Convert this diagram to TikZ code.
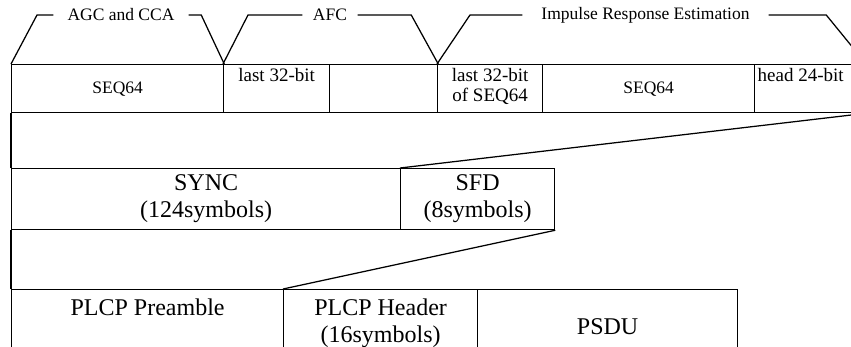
\documentclass[tikz,border=0pt]{standalone}
\usepackage{fontspec}
\setmainfont{Liberation Serif}
\begin{document}
\begin{tikzpicture}[x=1pt, y=-1pt, line width=1.25pt,
  cell/.style={draw, rectangle, inner sep=0pt, anchor=north west},
  small/.style={font=\fontsize{17.5}{19.5}\selectfont, inner sep=0pt, align=center},
  note/.style={font=\fontsize{19}{20}\selectfont, inner sep=0pt, align=center},
  big/.style={font=\fontsize{24}{27}\selectfont, inner sep=0pt, align=center},
  phase/.style={small, fill=white, inner ysep=0pt}]
\useasboundingbox (0,0) rectangle (851,346);
\clip (0,0) rectangle (851,346);

% --- bit-level row ---
\node[cell, minimum width=212pt, minimum height=48pt] (a1) at (11,64) {};
\node[cell, minimum width=106pt, minimum height=48pt] (a2) at (223,64) {};
\node[cell, minimum width=108pt, minimum height=48pt] (a3) at (329,64) {};
\node[cell, minimum width=105pt, minimum height=48pt] (a4) at (437,64) {};
\node[cell, minimum width=212pt, minimum height=48pt] (a5) at (542,64) {};
\node[cell, minimum width=111pt, minimum height=48pt] (a6) at (754,64) {};

\node[small] (t1) at (a1.center) {SEQ64};
\node[note, anchor=north] (t2) at ([yshift=-4pt]a2.north) {last 32-bit};
\node[note, anchor=north] (t4) at ([yshift=-4pt]a4.north) {last 32-bit\\of SEQ64};
\node[small] (t5) at (a5.center) {SEQ64};
\node[note, anchor=north west] (t6) at ([xshift=3pt, yshift=-4pt]a6.north west) {head 24-bit};

% --- phase brackets above the bit-level row ---
\node[phase, inner xsep=13.5pt] (p1) at (121,15) {AGC and CCA};
\node[phase, inner xsep=10pt] (p2) at (330,15) {AFC};
\node[phase, inner xsep=18.5pt] (p3) at (645.5,15) {Impulse Response Estimation};

\draw (a1.north west) -- ([xshift=26pt]a1.north west |- p1.west) -- (p1.west);
\draw (p1.east) -- ([xshift=-23pt]a1.north east |- p1.east) -- (a1.north east);
\draw (a2.north west) -- ([xshift=25pt]a2.north west |- p2.west) -- (p2.west);
\draw (p2.east) -- ([xshift=-27pt]a3.north east |- p2.east) -- (a3.north east);
\draw (a4.north west) -- ([xshift=33pt]a4.north west |- p3.west) -- (p3.west);
\draw (p3.east) -- ([xshift=-40pt]a6.north east |- p3.east) -- (a6.north east);

% --- preamble row ---
\node[cell, minimum width=389pt, minimum height=61pt] (b1) at (11,168) {};
\node[cell, minimum width=154pt, minimum height=61pt] (b2) at (400,168) {};
\node[big] (u1) at (b1.center) {SYNC\\(124symbols)};
\node[big] (u2) at (b2.center) {SFD\\(8symbols)};

% --- frame row ---
\node[cell, minimum width=272pt, minimum height=120pt] (c1) at (11,289) {};
\node[cell, minimum width=194pt, minimum height=120pt] (c2) at (283,289) {};
\node[cell, minimum width=260pt, minimum height=120pt] (c3) at (477,289) {};
\node[big, anchor=north] (v1) at ([yshift=-9pt]c1.north) {PLCP Preamble};
\node[big, anchor=north] (v2) at ([yshift=-9pt]c2.north) {PLCP Header\\(16symbols)};
\node[big, anchor=north] (v3) at ([yshift=-29pt]c3.north) {PSDU};

% --- zoom lines between rows ---
\draw (a1.south west) -- (b1.north west);
\draw (a6.south east) -- (b2.north west);
\draw (b1.south west) -- (c1.north west);
\draw (b2.south east) -- (c2.north west);
\end{tikzpicture}
\end{document}
